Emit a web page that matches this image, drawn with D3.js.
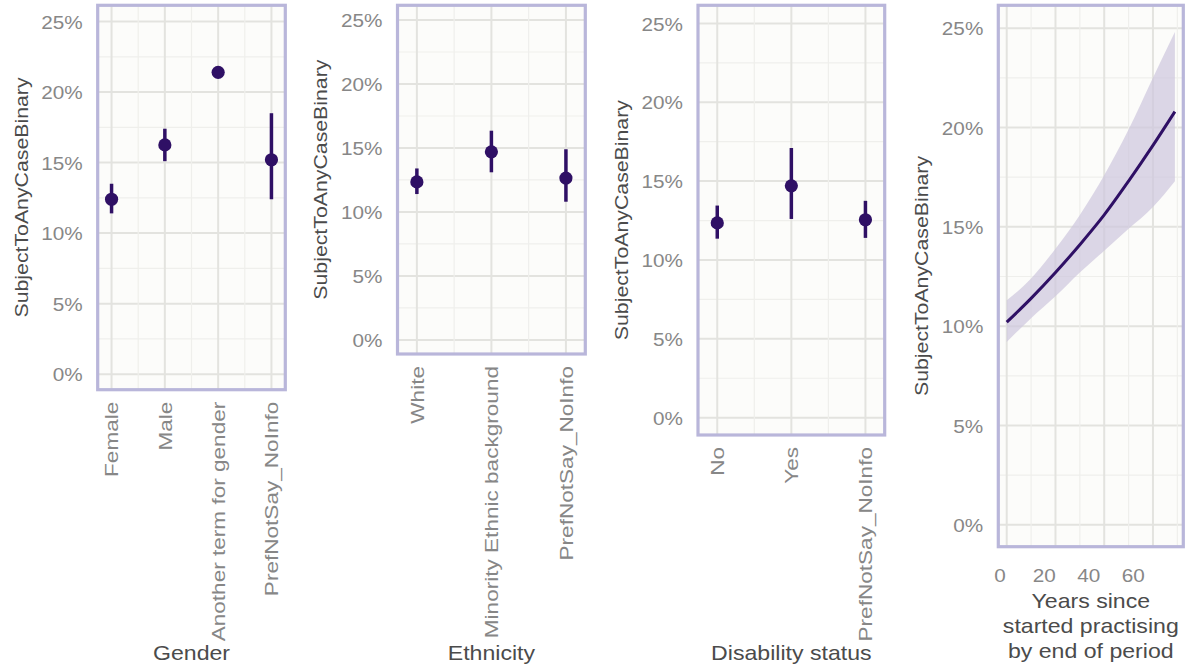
<!DOCTYPE html>
<html>
<head>
<meta charset="utf-8">
<script src="https://cdn.jsdelivr.net/npm/d3@7"></script>
<style>
  body { margin: 0; background: #ffffff; }
  text { font-family: "Liberation Sans", Arial, sans-serif; }
</style>
</head>
<body>
<script>
// values (percent)
const yTicks = [0, 5, 10, 15, 20, 25];
const yMinor = [2.5, 7.5, 12.5, 17.5, 22.5];

const genderCats = ["Female", "Male", "Another term for gender", "PrefNotSay_NoInfo"];
const genderMean = [12.4, 16.25, 21.4, 15.2];
const genderLow = [11.4, 15.1, null, 12.4];
const genderHigh = [13.5, 17.4, null, 18.5];

const ethnicityCats = ["White", "Minority Ethnic background", "PrefNotSay_NoInfo"];
const ethnicityMean = [12.35, 14.7, 12.65];
const ethnicityLow = [11.4, 13.1, 10.8];
const ethnicityHigh = [13.4, 16.35, 14.9];

const disabilityCats = ["No", "Yes", "PrefNotSay_NoInfo"];
const disabilityMean = [12.35, 14.7, 12.55];
const disabilityLow = [11.35, 12.6, 11.4];
const disabilityHigh = [13.45, 17.1, 13.75];

const yearsX = [0, 10, 20, 30, 40, 50, 60, 69];
const yearsMean = [10.2, 11.4, 12.7, 14.1, 15.6, 17.3, 19.1, 20.8];
const yearsLow = [9.2, 10.4, 11.5, 12.7, 13.8, 14.9, 16.0, 17.3];
const yearsHigh = [11.3, 12.4, 13.9, 15.6, 17.6, 19.9, 22.5, 24.8];
const yearsTicks = [0, 20, 40, 60];
const yearsMinor = [10, 30, 50, 70];

const yTitle = "SubjectToAnyCaseBinary";

const width = 1189, height = 667;
const purple = "#2f1065";
const frameColor = "#b9b6da";
const tickColor = "#878787";
const titleColor = "#4b4b4b";

const svg = d3.select("body").append("svg")
  .attr("width", width)
  .attr("height", height)
  .attr("viewBox", [0, 0, width, height]);

svg.append("rect").attr("width", width).attr("height", height).attr("fill", "#ffffff");

// stretch a text along its reading direction (reference glyphs run long)
function stretch(sel, k) {
  sel.each(function () {
    const w = this.getComputedTextLength();
    d3.select(this).attr("textLength", w * k).attr("lengthAdjust", "spacingAndGlyphs");
  });
}

function panelBase(box) {
  const g = svg.append("g");
  const y = d3.scaleLinear().domain([-1.1, 26.15]).range([box.bottom, box.top]);
  g.append("rect")
    .attr("x", box.left).attr("y", box.top)
    .attr("width", box.right - box.left).attr("height", box.bottom - box.top)
    .attr("fill", "#fcfcfa");
  // horizontal grid
  g.selectAll(".hminor").data(yMinor).join("line")
    .attr("x1", box.left).attr("x2", box.right)
    .attr("y1", d => y(d)).attr("y2", d => y(d))
    .attr("stroke", "#efefec").attr("stroke-width", 1.2);
  g.selectAll(".hmajor").data(yTicks).join("line")
    .attr("x1", box.left).attr("x2", box.right)
    .attr("y1", d => y(d)).attr("y2", d => y(d))
    .attr("stroke", "#e3e3df").attr("stroke-width", 2);
  // y axis labels
  const axis = g.append("g")
    .attr("transform", `translate(${box.left - 15},0)`)
    .call(d3.axisLeft(y).tickValues(yTicks).tickSize(0).tickPadding(0).tickFormat(d => d + "%"));
  axis.select(".domain").remove();
  axis.selectAll("text")
    .attr("fill", tickColor)
    .style("font-size", "18.5px")
    .attr("dy", "0.36em")
    .call(stretch, 1.12);
  // y title
  g.append("text")
    .attr("transform", `translate(${box.left - 77},${(box.top + box.bottom) / 2}) rotate(-90)`)
    .attr("text-anchor", "middle")
    .attr("dy", "0.36em")
    .attr("fill", titleColor)
    .style("font-size", "19px")
    .text(yTitle)
    .call(stretch, 1.12);
  return { g, y };
}

function frame(g, box) {
  g.append("rect")
    .attr("x", box.left).attr("y", box.top)
    .attr("width", box.right - box.left).attr("height", box.bottom - box.top)
    .attr("fill", "none").attr("stroke", frameColor).attr("stroke-width", 3.2);
}

function catPanel(box, cats, mean, low, high, title) {
  const { g, y } = panelBase(box);
  const x = d3.scalePoint().domain(cats).range([box.left, box.right]).padding(0.26);
  const mids = d3.pairs(cats).map(([a, b]) => (x(a) + x(b)) / 2);
  g.selectAll(".vminor").data(mids).join("line")
    .attr("x1", d => d).attr("x2", d => d)
    .attr("y1", box.top).attr("y2", box.bottom)
    .attr("stroke", "#efefec").attr("stroke-width", 1.2);
  g.selectAll(".vmajor").data(cats).join("line")
    .attr("x1", d => x(d)).attr("x2", d => x(d))
    .attr("y1", box.top).attr("y2", box.bottom)
    .attr("stroke", "#e3e3df").attr("stroke-width", 2);
  frame(g, box);
  const idx = d3.range(cats.length);
  g.selectAll(".err").data(idx.filter(i => low[i] != null)).join("line")
    .attr("x1", i => x(cats[i])).attr("x2", i => x(cats[i]))
    .attr("y1", i => y(low[i])).attr("y2", i => y(high[i]))
    .attr("stroke", purple).attr("stroke-width", 3.5);
  g.selectAll(".pt").data(idx).join("circle")
    .attr("cx", i => x(cats[i])).attr("cy", i => y(mean[i]))
    .attr("r", 6.6).attr("fill", purple);
  // x labels, rotated
  g.selectAll(".xl").data(cats).join("text")
    .attr("transform", d => `translate(${x(d)},${box.bottom + 12}) rotate(-90)`)
    .attr("text-anchor", "end")
    .attr("dy", "0.36em")
    .attr("fill", tickColor)
    .style("font-size", "18.5px")
    .text(d => d)
    .call(stretch, 1.22);
  g.append("text")
    .attr("x", (box.left + box.right) / 2).attr("y", 652)
    .attr("text-anchor", "middle").attr("dy", "0.36em")
    .attr("fill", titleColor)
    .style("font-size", "21px")
    .text(title)
    .call(stretch, 1.1);
}

catPanel({ left: 97.7, right: 285.3, top: 5.3, bottom: 389.7 }, genderCats, genderMean, genderLow, genderHigh, "Gender");
catPanel({ left: 397.5, right: 585.3, top: 5.3, bottom: 354 }, ethnicityCats, ethnicityMean, ethnicityLow, ethnicityHigh, "Ethnicity");
catPanel({ left: 698, right: 884.7, top: 5.3, bottom: 435 }, disabilityCats, disabilityMean, disabilityLow, disabilityHigh, "Disability status");

// continuous panel
(function () {
  const box = { left: 998.3, right: 1183.3, top: 5.3, bottom: 546.7 };
  const { g, y } = panelBase(box);
  const pad = (d3.max(yearsX) - d3.min(yearsX)) * 0.05;
  const x = d3.scaleLinear().domain([d3.min(yearsX) - pad, d3.max(yearsX) + pad]).range([box.left, box.right]);
  // the reference prints its year labels on a slightly different spacing than the grid
  const xLabel = d3.scaleLinear().domain([-0.5, 82.8]).range([box.left, box.right]);
  g.selectAll(".vminor").data(yearsMinor).join("line")
    .attr("x1", d => x(d)).attr("x2", d => x(d))
    .attr("y1", box.top).attr("y2", box.bottom)
    .attr("stroke", "#efefec").attr("stroke-width", 1.2);
  g.selectAll(".vmajor").data(yearsTicks).join("line")
    .attr("x1", d => x(d)).attr("x2", d => x(d))
    .attr("y1", box.top).attr("y2", box.bottom)
    .attr("stroke", "#e3e3df").attr("stroke-width", 2);
  frame(g, box);
  const I = d3.range(yearsX.length);
  const band = d3.area()
    .x(i => x(yearsX[i]))
    .y0(i => y(yearsLow[i]))
    .y1(i => y(yearsHigh[i]))
    .curve(d3.curveMonotoneX);
  g.append("path").attr("d", band(I)).attr("fill", "#cdc6dd").attr("opacity", 0.7);
  const line = d3.line()
    .x(i => x(yearsX[i]))
    .y(i => y(yearsMean[i]))
    .curve(d3.curveMonotoneX);
  g.append("path").attr("d", line(I))
    .attr("fill", "none").attr("stroke", purple).attr("stroke-width", 3);
  const xa = g.append("g")
    .attr("transform", `translate(0,${box.bottom + 29})`)
    .call(d3.axisBottom(xLabel).tickValues(yearsTicks).tickSize(0).tickPadding(0));
  xa.select(".domain").remove();
  xa.selectAll("text").attr("fill", tickColor).style("font-size", "18.5px").attr("dy", "0.36em").attr("y", 0)
    .call(stretch, 1.12);
  const lines = ["Years since", "started practising", "by end of period"];
  g.append("text")
    .attr("text-anchor", "middle")
    .attr("fill", titleColor)
    .style("font-size", "21px")
    .selectAll("tspan").data(lines).join("tspan")
    .attr("x", (box.left + box.right) / 2)
    .attr("y", (d, i) => 600 + i * 25)
    .attr("dy", "0.36em")
    .text(d => d)
    .call(stretch, 1.1);
})();
</script>
</body>
</html>
